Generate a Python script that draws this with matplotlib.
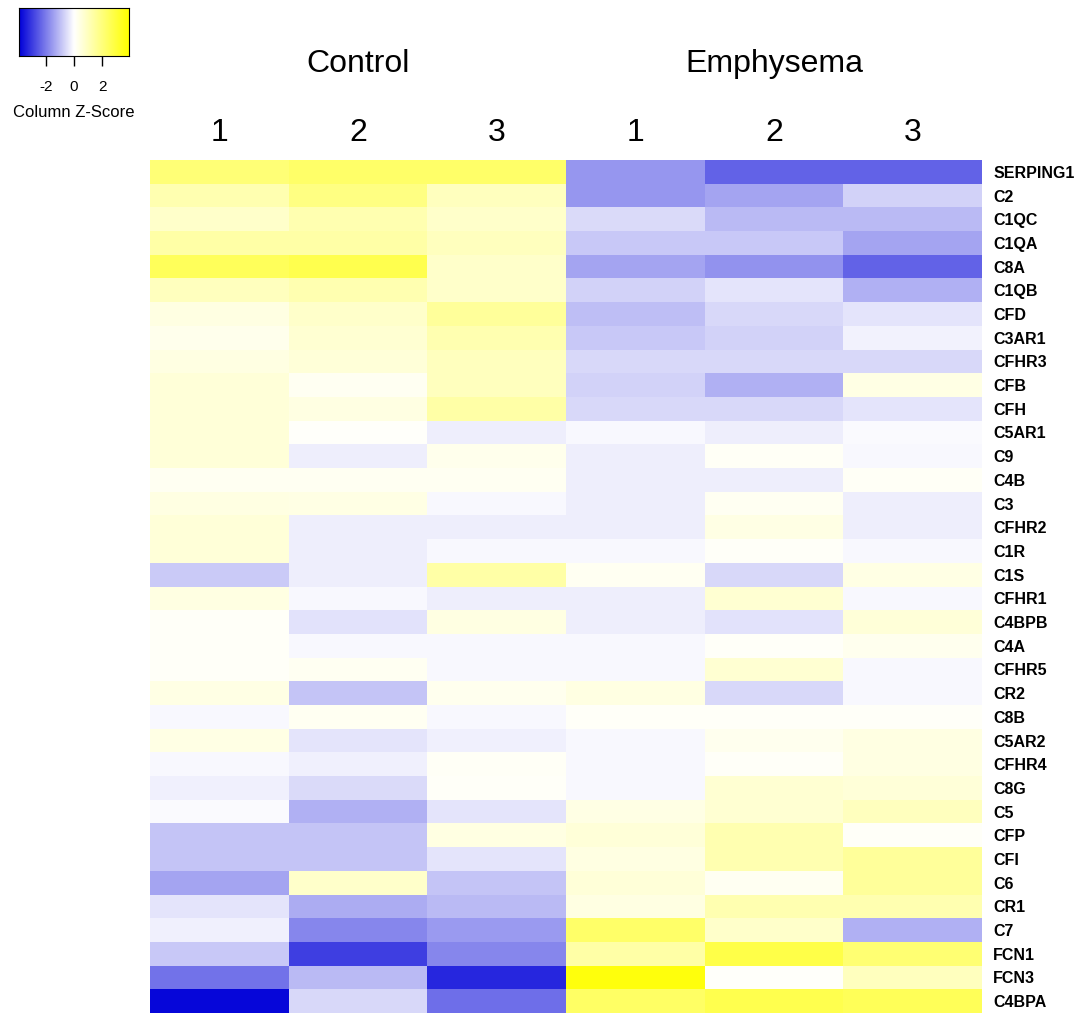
import numpy as np
import matplotlib
matplotlib.use("Agg")
import matplotlib.pyplot as plt
from matplotlib.colors import LinearSegmentedColormap

plt.rcParams['font.family'] = ['Liberation Sans', 'DejaVu Sans']

genes = ['SERPING1', 'C2', 'C1QC', 'C1QA', 'C8A', 'C1QB', 'CFD', 'C3AR1', 'CFHR3',
         'CFB', 'CFH', 'C5AR1', 'C9', 'C4B', 'C3', 'CFHR2', 'C1R', 'C1S', 'CFHR1',
         'C4BPB', 'C4A', 'CFHR5', 'CR2', 'C8B', 'C5AR2', 'CFHR4', 'C8G', 'C5', 'CFP',
         'CFI', 'C6', 'CR1', 'C7', 'FCN1', 'FCN3', 'C4BPA']
col_labels = ['1', '2', '3', '1', '2', '3']
groups = ['Control', 'Emphysema']

# column z-scores, one row per gene: Control 1-3, Emphysema 1-3
zscores = [
    [2.1, 2.3, 2.3, -1.6, -2.4, -2.4],
    [1.2, 1.9, 1.0, -1.6, -1.4, -0.7],
    [0.8, 1.2, 0.8, -0.55, -1.05, -1.05],
    [1.35, 1.35, 1.0, -0.85, -0.85, -1.4],
    [2.5, 2.7, 0.8, -1.4, -1.65, -2.4],
    [1.0, 1.2, 0.8, -0.7, -0.4, -1.2],
    [0.45, 0.8, 1.55, -1.0, -0.6, -0.4],
    [0.3, 0.7, 1.2, -0.85, -0.7, -0.2],
    [0.45, 0.6, 1.0, -0.6, -0.6, -0.6],
    [0.6, 0.2, 1.0, -0.7, -1.2, 0.4],
    [0.6, 0.45, 1.35, -0.6, -0.6, -0.4],
    [0.6, 0.08, -0.27, -0.12, -0.25, -0.08],
    [0.6, -0.27, 0.3, -0.27, 0.15, -0.12],
    [0.2, 0.2, 0.2, -0.27, -0.27, 0.15],
    [0.45, 0.4, -0.12, -0.27, 0.2, -0.27],
    [0.6, -0.27, -0.27, -0.27, 0.4, -0.27],
    [0.6, -0.27, -0.12, -0.12, 0.12, -0.12],
    [-0.8, -0.27, 1.35, 0.2, -0.6, 0.4],
    [0.45, -0.12, -0.27, -0.27, 0.7, -0.12],
    [0.12, -0.45, 0.45, -0.27, -0.45, 0.6],
    [0.12, -0.12, -0.12, -0.12, 0.12, 0.27],
    [0.12, 0.2, -0.12, -0.12, 0.7, -0.12],
    [0.4, -0.9, 0.27, 0.45, -0.6, -0.12],
    [-0.12, 0.2, -0.12, 0.12, 0.12, 0.12],
    [0.4, -0.4, -0.23, -0.12, 0.27, 0.45],
    [-0.12, -0.23, 0.15, -0.12, 0.12, 0.45],
    [-0.23, -0.55, 0.12, -0.12, 0.7, 0.6],
    [-0.08, -1.2, -0.4, 0.4, 0.7, 1.0],
    [-0.9, -0.9, 0.45, 0.6, 1.2, 0.12],
    [-0.9, -0.9, -0.4, 0.45, 1.2, 1.55],
    [-1.4, 0.8, -0.9, 0.6, 0.2, 1.55],
    [-0.4, -1.25, -1.05, 0.45, 1.2, 1.2],
    [-0.23, -1.85, -1.55, 2.3, 0.8, -1.2],
    [-0.85, -2.95, -1.85, 1.35, 2.8, 2.15],
    [-2.15, -1.05, -3.3, 3.7, 0.08, 1.0],
    [-3.8, -0.6, -2.2, 2.35, 2.7, 2.55],
]
key_ticks = [-2, 0, 2]

vlim = 3.9
cmap = LinearSegmentedColormap.from_list('bwy', ['#0000D8', '#FFFFFF', '#FFFF00'])
data = np.array(zscores)
nrow, ncol = data.shape

fig = plt.figure(figsize=(10.86, 10.13), dpi=100)

# main heatmap
ax = fig.add_axes([150 / 1086, 0.0, 832 / 1086, 853 / 1013])
ax.pcolormesh(np.arange(ncol + 1), np.arange(nrow + 1), data, cmap=cmap,
              vmin=-vlim, vmax=vlim)
ax.set_xlim(0, ncol)
ax.set_ylim(nrow, 0)
for s in ax.spines.values():
    s.set_visible(False)
ax.set_xticks([])
ax.yaxis.tick_right()
ax.set_yticks(np.arange(nrow) + 0.5)
ax.set_yticklabels(genes, fontsize=11.5, fontweight='bold')
ax.tick_params(axis='y', length=0, pad=8)

for j, lab in enumerate(col_labels):
    ax.text(j + 0.5, -1.12, lab, ha='center', va='center', fontsize=23, clip_on=False)
for g, name in enumerate(groups):
    ax.text(g * 3 + 1.5, -4.05, name, ha='center', va='center', fontsize=23, clip_on=False)

# colour key
kax = fig.add_axes([19 / 1086, 1 - 56 / 1013, 110 / 1086, 48 / 1013])
grad = np.linspace(-vlim, vlim, 256).reshape(1, -1)
kax.imshow(grad, cmap=cmap, vmin=-vlim, vmax=vlim, aspect='auto',
           extent=[-vlim, vlim, 0, 1])
kax.set_xlim(-vlim, vlim)
kax.set_yticks([])
kax.set_xticks(key_ticks)
kax.set_xticklabels([str(t) for t in key_ticks], fontsize=11)
kax.tick_params(axis='x', length=7, width=1, pad=10)
for s in kax.spines.values():
    s.set_linewidth(0.8)
kax.set_xlabel('Column Z-Score', fontsize=12, labelpad=8)

fig.savefig('out.png', dpi=100)
